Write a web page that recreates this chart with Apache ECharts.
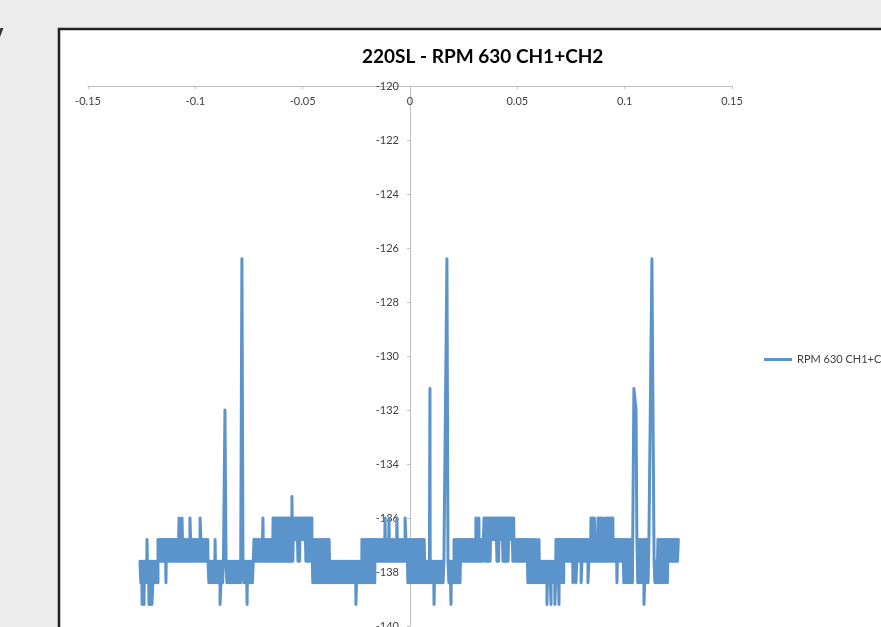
<!DOCTYPE html>
<html>
<head>
<meta charset="utf-8">
<script src="https://cdn.jsdelivr.net/npm/echarts@6/dist/echarts.min.js"></script>
<style>
  html, body { margin: 0; padding: 0; background: #ececec; }
  #main { width: 881px; height: 627px; }
</style>
</head>
<body>
<div id="main"></div>
<script>
const chartTitle = '220SL - RPM 630 CH1+CH2';
const seriesName = 'RPM 630 CH1+CH2';

// dB levels the trace jumps between
const A = -136.0, B = -136.8, C = -137.6, D = -138.4, E = -139.2;

// noise bands: [x start, x end, upper dB, lower dB]
const bands = [
  [-0.1258, -0.1174, C, D],
  [-0.1174, -0.0941, B, C],
  [-0.0941, -0.0866, C, D],
  [-0.0857, -0.0787, C, D],
  [-0.0778, -0.0727, C, D],
  [-0.0727, -0.0638, B, C],
  [-0.0638, -0.0540, A, C],
  [-0.0540, -0.0526, A, B],
  [-0.0526, -0.0512, A, C],
  [-0.0512, -0.0489, A, B],
  [-0.0489, -0.0457, A, C],
  [-0.0457, -0.0373, B, D],
  [-0.0373, -0.0224, C, D],
  [-0.0224, -0.0163, B, D],
  [-0.0163, -0.0014, B, C],
  [-0.0014, 0.0070, B, D],
  [0.0070, 0.0158, C, D],
  [0.0177, 0.0205, C, D],
  [0.0205, 0.0238, B, D],
  [0.0238, 0.0345, B, C],
  [0.0345, 0.0377, A, C],
  [0.0377, 0.0401, A, B],
  [0.0401, 0.0415, A, C],
  [0.0415, 0.0429, A, B],
  [0.0429, 0.0461, A, C],
  [0.0461, 0.0475, A, B],
  [0.0475, 0.0484, A, C],
  [0.0484, 0.0545, B, C],
  [0.0545, 0.0578, B, D],
  [0.0578, 0.0680, C, D],
  [0.0680, 0.0717, B, D],
  [0.0717, 0.0843, B, C],
  [0.0843, 0.0866, A, C],
  [0.0866, 0.0876, B, C],
  [0.0876, 0.0904, A, C],
  [0.0904, 0.0913, B, C],
  [0.0913, 0.0946, A, C],
  [0.0946, 0.0992, B, C],
  [0.0992, 0.1039, B, D],
  [0.1057, 0.1113, B, D],
  [0.1137, 0.1155, C, D],
  [0.1155, 0.1202, B, D],
  [0.1202, 0.1253, B, C]
];

// single excursions and the peaks: [x, dB]
const spikes = [
  [-0.1248, E], [-0.1239, E], [-0.1225, B], [-0.1216, E], [-0.1211, E], [-0.1202, E],
  [-0.1137, D],
  [-0.1076, A], [-0.1062, A], [-0.1025, A], [-0.0978, A],
  [-0.0908, B], [-0.0885, E],
  [-0.0862, -132.0],
  [-0.0783, -126.4],
  [-0.0759, E], [-0.0685, A],
  [-0.0550, -135.2],
  [-0.0252, E],
  [-0.0116, A], [-0.0098, A], [-0.0061, A], [-0.0023, A],
  [0.0093, -131.2],
  [0.0112, E],
  [0.0172, -126.4],
  [0.0191, E],
  [0.0307, A], [0.0321, A],
  [0.0587, B], [0.0601, B],
  [0.0638, E], [0.0657, E], [0.0675, E], [0.0694, E],
  [0.0759, D], [0.0773, D], [0.0797, D], [0.0829, D],
  [0.0964, D],
  [0.1043, -131.2], [0.1053, -132.0],
  [0.1090, E],
  [0.1127, -126.4]
];

// the trace flickers between the two levels of a band, sample after sample
const step = 0.0004;
let points = [];
bands.forEach(function (b) {
  let up = true;
  for (let x = b[0]; x <= b[1] + 1e-9; x += step) {
    points.push([+x.toFixed(5), up ? b[2] : b[3]]);
    up = !up;
  }
});
spikes.forEach(function (s) { points.push(s); });
points.sort(function (p, q) { return p[0] - q[0]; });

const labelFont = 'Lato';
let myChart = echarts.init(document.getElementById('main'));

// grid spans 88..732 px, so x = 0 sits 322 px right of the grid's left edge
const yAxisShift = -322;

let option = {
  backgroundColor: '#ececec',
  animation: false,
  graphic: [
    {
      type: 'rect', z: -1, silent: true,
      shape: { x: 59, y: 29, width: 900, height: 700 },
      style: { fill: '#ffffff', stroke: '#222222', lineWidth: 2.5 }
    },
    {
      type: 'text', silent: true,
      x: -12, y: 27,
      style: { text: 'V', font: 'bold 22px Lato', fill: '#333333' }
    }
  ],
  title: {
    text: chartTitle,
    left: 357,
    top: 42,
    textStyle: { fontFamily: labelFont, fontWeight: 'bold', fontSize: 19, color: '#000000' }
  },
  legend: {
    left: 759,
    top: 349,
    itemWidth: 28,
    itemHeight: 3,
    textStyle: { fontFamily: labelFont, fontSize: 11, color: '#404040' },
    data: [{ name: seriesName, icon: 'rect' }]
  },
  grid: { left: 88, right: 149, top: 86, bottom: 1, outerBoundsMode: 'none' },
  xAxis: {
    type: 'value',
    position: 'top',
    min: -0.15,
    max: 0.15,
    interval: 0.05,
    axisLine: { onZero: false, lineStyle: { color: '#bfbfbf', width: 1 } },
    axisTick: { inside: true, length: 3, lineStyle: { color: '#bfbfbf' } },
    axisLabel: { inside: true, margin: 10, fontFamily: labelFont, fontSize: 11, color: '#404040' },
    splitLine: { show: false }
  },
  yAxis: {
    type: 'value',
    min: -140,
    max: -120,
    interval: 2,
    offset: yAxisShift,
    axisLine: { show: true, onZero: false, lineStyle: { color: '#bfbfbf', width: 1 } },
    axisTick: { show: true, length: 3, lineStyle: { color: '#bfbfbf' } },
    axisLabel: { margin: 11, fontFamily: labelFont, fontSize: 11, color: '#404040' },
    splitLine: { show: false }
  },
  series: [
    {
      name: seriesName,
      type: 'line',
      data: points,
      symbol: 'none',
      color: '#5b93cb',
      lineStyle: { width: 3, color: '#5b93cb', join: 'round', cap: 'round' }
    }
  ]
};
myChart.setOption(option);
</script>
</body>
</html>
